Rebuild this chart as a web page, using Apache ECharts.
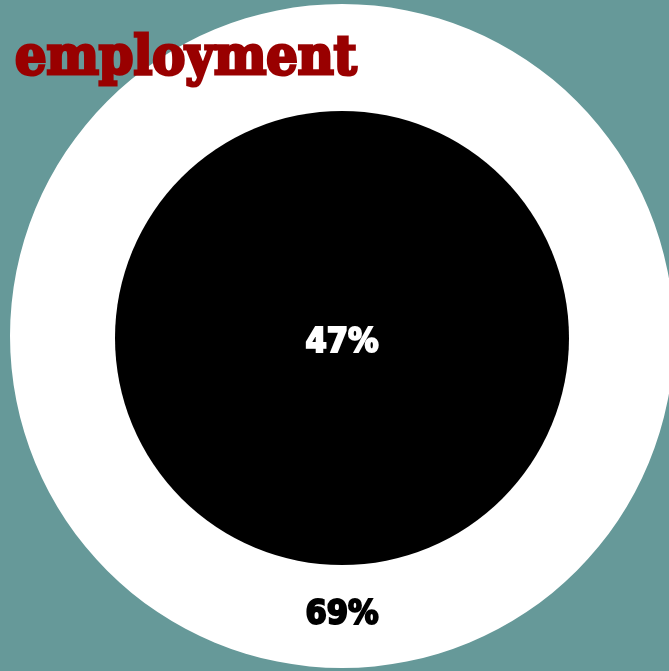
<!DOCTYPE html>
<html><head><meta charset="utf-8">
<script src="https://cdn.jsdelivr.net/npm/echarts@6/dist/echarts.min.js"></script>
<style>html,body{margin:0;padding:0;background:#669999;}#c{width:669px;height:671px;}</style>
</head><body><div id="c"></div>
<script>
const titleText = 'employment';
const outerName = ['employment outer'];
const outerValues = [69];
const innerName = ['employment inner'];
const innerValues = [47];

const chart = echarts.init(document.getElementById('c'));
const numFont = {fontFamily: 'DejaVu Sans Condensed', fontWeight: 'bold', fontSize: 34, textBorderWidth: 2};
chart.setOption({
  backgroundColor: '#669999',
  animation: false,
  title: {
    text: titleText, left: 10, top: 27,
    textStyle: {fontFamily: 'DejaVu Serif Condensed', fontWeight: 'bold', fontSize: 55, color: '#990000',
      textBorderColor: '#990000', textBorderWidth: 3}
  },
  series: [
    {
      type: 'pie', center: [342, 336], radius: [218, 332], silent: true,
      startAngle: 90, z: 1,
      itemStyle: {color: '#ffffff'},
      label: Object.assign({show: true, position: 'inside', color: '#000', textBorderColor: '#000', offset: [0, 1], formatter: p => p.value + '%'}, numFont),
      labelLine: {show: false},
      data: outerValues.map((v, i) => ({name: outerName[i], value: v}))
    },
    {
      type: 'pie', center: [342, 338], radius: [0, 227], silent: true,
      startAngle: 90, z: 2,
      itemStyle: {color: '#000000'},
      label: Object.assign({show: true, position: 'center', color: '#fff', textBorderColor: '#fff', offset: [0, 5], formatter: p => p.value + '%'}, numFont),
      labelLine: {show: false},
      data: innerValues.map((v, i) => ({name: innerName[i], value: v}))
    }
  ]
});
</script></body></html>
